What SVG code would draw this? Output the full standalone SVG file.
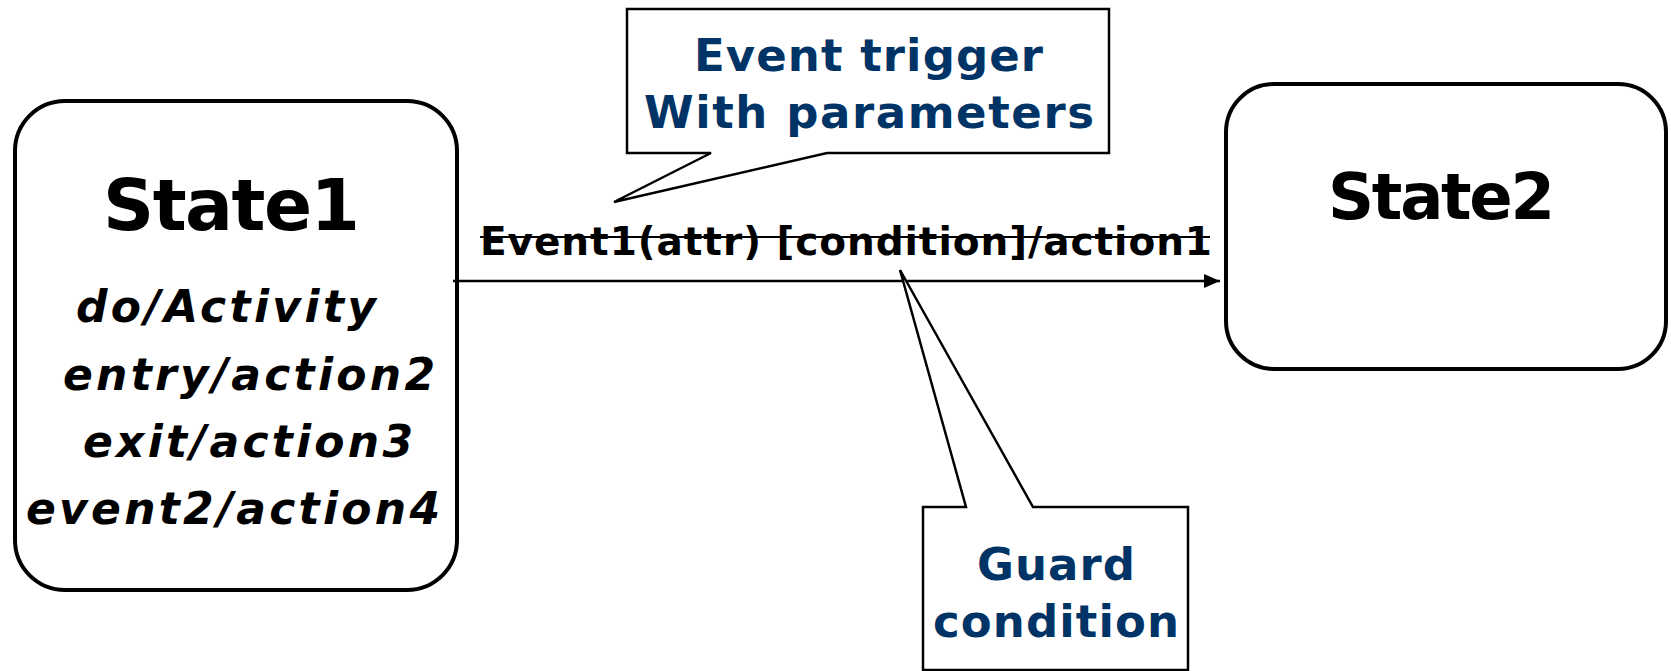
<svg xmlns="http://www.w3.org/2000/svg" width="1671" height="671" viewBox="0 0 1671 671">
  <style>
    .state { fill: #ffffff; stroke: #000000; stroke-width: 4; }
    .callout { fill: #ffffff; stroke: #000000; stroke-width: 2.5; stroke-linejoin: miter; }
    .title { font-family: "DejaVu Sans", Verdana, sans-serif; font-weight: bold; fill: #000000; }
    .act { font-family: "DejaVu Sans", Verdana, sans-serif; font-weight: bold; font-style: italic; font-size: 44px; fill: #000000; }
    .note { font-family: "DejaVu Sans", Verdana, sans-serif; font-weight: bold; font-size: 45px; fill: #003366; }
    .label { font-family: "DejaVu Sans", Verdana, sans-serif; font-weight: bold; font-size: 39px; fill: #000000; }
    .wire { stroke: #000000; stroke-width: 2.5; fill: none; }
  </style>
  <defs>
    <marker id="arrow" viewBox="0 0 16 14" refX="16" refY="7" markerWidth="16" markerHeight="14" markerUnits="userSpaceOnUse" orient="auto">
      <path d="M0,0 L16,7 L0,14 Z" fill="#000000"/>
    </marker>
  </defs>

  <rect width="1671" height="671" fill="#ffffff"/>

  <!-- source state with internal activities -->
  <g id="state1">
    <rect class="state" x="15" y="101" width="442" height="489" rx="50" ry="50"/>
    <text class="title" x="103" y="230" font-size="71" textLength="257" lengthAdjust="spacing">State1</text>
    <text class="act" x="76" y="322" textLength="300" lengthAdjust="spacing">do/Activity</text>
    <text class="act" x="63" y="390" textLength="372" lengthAdjust="spacing">entry/action2</text>
    <text class="act" x="83" y="457" textLength="330" lengthAdjust="spacing">exit/action3</text>
    <text class="act" x="26" y="524" textLength="414" lengthAdjust="spacing">event2/action4</text>
  </g>

  <!-- target state -->
  <g id="state2">
    <rect class="state" x="1226" y="84" width="440" height="285" rx="48" ry="48"/>
    <text class="title" x="1328" y="219" font-size="64" textLength="227" lengthAdjust="spacing">State2</text>
  </g>

  <!-- transition between the states -->
  <g id="connectors">
    <line class="wire" x1="453" y1="281" x2="1220" y2="281" marker-end="url(#arrow)"/>
    <g id="transition-label">
      <text class="label" x="480" y="255" textLength="732" lengthAdjust="spacing">Event1(attr) [condition]/action1</text>
      <line x1="480" y1="237" x2="1210" y2="237" stroke="#000000" stroke-width="2"/>
    </g>
  </g>

  <!-- callout for the event trigger -->
  <g id="callout-event">
    <path class="callout" d="M627,9 H1109 V153 H827 L614,202 L711,153 H627 Z"/>
    <text class="note" x="694" y="71" textLength="349" lengthAdjust="spacing">Event trigger</text>
    <text class="note" x="644" y="128" textLength="450" lengthAdjust="spacing">With parameters</text>
  </g>

  <!-- callout for the guard -->
  <g id="callout-guard">
    <path class="callout" d="M923,507 H966 L900,270 L1033,507 H1188 V670 H923 Z"/>
    <text class="note" x="977" y="580" textLength="158" lengthAdjust="spacing">Guard</text>
    <text class="note" x="933" y="637" textLength="246" lengthAdjust="spacing">condition</text>
  </g>
</svg>
